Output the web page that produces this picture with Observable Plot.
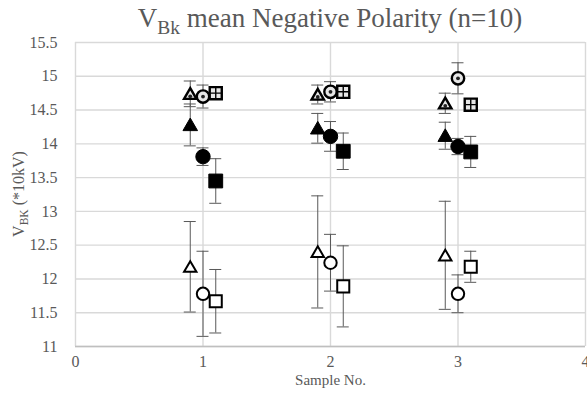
<!DOCTYPE html>
<html><head><meta charset="utf-8">
<script src="https://cdn.jsdelivr.net/npm/d3@7"></script>
<script src="https://cdn.jsdelivr.net/npm/@observablehq/plot@0.6"></script>
<style>
body{margin:0;background:#fff;}
#wrap{position:relative;width:587px;height:394px;font-family:"Liberation Serif",serif;}
#title{position:absolute;left:75px;width:510px;top:3px;text-align:center;font-size:27px;color:#595959;white-space:nowrap;}
#ylab{position:absolute;left:19px;top:194px;transform:translate(-50%,-50%) rotate(-90deg);white-space:nowrap;font-size:16px;color:#595959;}
sub{font-size:0.72em;vertical-align:-0.35em;line-height:0;}
#chart svg, #chart svg text{font-family:"Liberation Serif",serif !important;}
</style></head><body>
<div id="wrap"><div id="chart"></div>
<div id="title">V<sub>Bk</sub> mean Negative Polarity (n=10)</div>
<div id="ylab">V<sub>BK</sub> (*10kV)</div>
</div>
<script>
// ---- data ----
const samples = [1, 2, 3];
const xTicks = [0, 1, 2, 3, 4];
const yTicks = [11, 11.5, 12, 12.5, 13, 13.5, 14, 14.5, 15, 15.5];

const triPatMean  = [14.74, 14.73, 14.60];
const triPatSd    = [0.19, 0.14, 0.15];
const circPatMean = [14.70, 14.77, 14.97];
const circPatSd   = [0.17, 0.15, 0.23];
const sqPatMean   = [14.75, 14.77, 14.58];
const sqPatSd     = [0.03, 0.03, 0.03];
const triFillMean = [14.28, 14.23, 14.12];
const triFillSd   = [0.31, 0.22, 0.20];
const circFillMean= [13.81, 14.11, 13.96];
const circFillSd  = [0.13, 0.22, 0.12];
const sqFillMean  = [13.45, 13.89, 13.88];
const sqFillSd    = [0.33, 0.27, 0.23];
const triOpenMean = [12.18, 12.40, 12.35];
const triOpenSd   = [0.67, 0.83, 0.80];
const circOpenMean= [11.78, 12.24, 11.78];
const circOpenSd  = [0.63, 0.42, 0.28];
const sqOpenMean  = [11.67, 11.89, 12.18];
const sqOpenSd    = [0.47, 0.60, 0.23];

// ---- styling ----
const offset = {triangle: -0.1, circle: 0, square: 0.1};
const series = [
  {shape: "triangle", kind: "pat",  mean: triPatMean,  sd: triPatSd},
  {shape: "circle",   kind: "pat",  mean: circPatMean, sd: circPatSd},
  {shape: "square",   kind: "pat",  mean: sqPatMean,   sd: sqPatSd},
  {shape: "triangle", kind: "fill", mean: triFillMean, sd: triFillSd},
  {shape: "circle",   kind: "fill", mean: circFillMean,sd: circFillSd},
  {shape: "square",   kind: "fill", mean: sqFillMean,  sd: sqFillSd},
  {shape: "triangle", kind: "open", mean: triOpenMean, sd: triOpenSd},
  {shape: "circle",   kind: "open", mean: circOpenMean,sd: circOpenSd},
  {shape: "square",   kind: "open", mean: sqOpenMean,  sd: sqOpenSd}
];
const rows = [];
series.forEach(s => s.mean.forEach((m, i) => rows.push({
  sample: samples[i], x: samples[i] + offset[s.shape], mean: m, sd: s.sd[i], shape: s.shape, kind: s.kind
})));

const rSize = {
  fill: {triangle: 5.4, circle: 7.2, square: 7.8},
  open: {triangle: 4.6, circle: 6.2, square: 6.8},
  pat:  {triangle: 4.6, circle: 6.2, square: 6.8}
};
const capHalf = 0.047;

const markerMarks = [];
for (const s of series) {
  const data = rows.filter(d => d.shape === s.shape && d.kind === s.kind);
  const r = rSize[s.kind][s.shape];
  markerMarks.push(Plot.dot(data, {
    x: "x", y: "mean", symbol: s.shape, r,
    dy: s.shape === "triangle" ? 1.5 : 0,
    fill: s.kind === "fill" ? "black" : (s.kind === "pat" ? "#e6e6e6" : "white"),
    stroke: "black",
    strokeWidth: s.kind === "fill" ? 1 : (s.kind === "pat" ? 2.4 : 2)
  }));
  if (s.kind === "pat") {
    if (s.shape === "square") {
      markerMarks.push(Plot.dot(data, {x: "x", y: "mean", symbol: "plus", r: 3.6, fill: "black", stroke: "black", strokeWidth: 1.4}));
    } else {
      markerMarks.push(Plot.dot(data, {x: "x", y: "mean", symbol: "circle", r: 1.9, dy: s.shape === "triangle" ? 2.5 : 0, fill: "#222", stroke: "none"}));
    }
  }
}

const chart = Plot.plot({
  width: 587, height: 394,
  marginLeft: 75, marginRight: 2, marginTop: 42, marginBottom: 48,
  style: {fontFamily: '"Liberation Serif",serif', fontSize: "16px", color: "#595959", background: "white"},
  x: {domain: [0, 4], ticks: xTicks, tickSize: 0, tickPadding: 9, tickFormat: d => String(d), label: null},
  y: {domain: [11, 15.5], ticks: yTicks, tickSize: 0, tickPadding: 18, tickFormat: d => String(d), label: null},
  marks: [
    Plot.ruleY(yTicks, {stroke: "#d9d9d9", strokeWidth: 1.4}),
    Plot.ruleX(xTicks, {stroke: "#d9d9d9", strokeWidth: 1.4}),
    Plot.ruleY([yTicks[0]], {stroke: "#bfbfbf", strokeWidth: 1.6}),
    Plot.ruleX(rows, {x: "x", y1: d => d.mean - d.sd, y2: d => d.mean + d.sd, stroke: "#595959", strokeWidth: 1}),
    Plot.ruleY(rows, {y: d => d.mean + d.sd, x1: d => d.x - capHalf, x2: d => d.x + capHalf, stroke: "#595959", strokeWidth: 1}),
    Plot.ruleY(rows, {y: d => d.mean - d.sd, x1: d => d.x - capHalf, x2: d => d.x + capHalf, stroke: "#595959", strokeWidth: 1}),
    ...markerMarks,
    Plot.text(["Sample No."], {frameAnchor: "bottom", dy: 38, fontSize: 15, fill: "#595959"})
  ]
});
document.getElementById("chart").appendChild(chart);
</script>
</body></html>
